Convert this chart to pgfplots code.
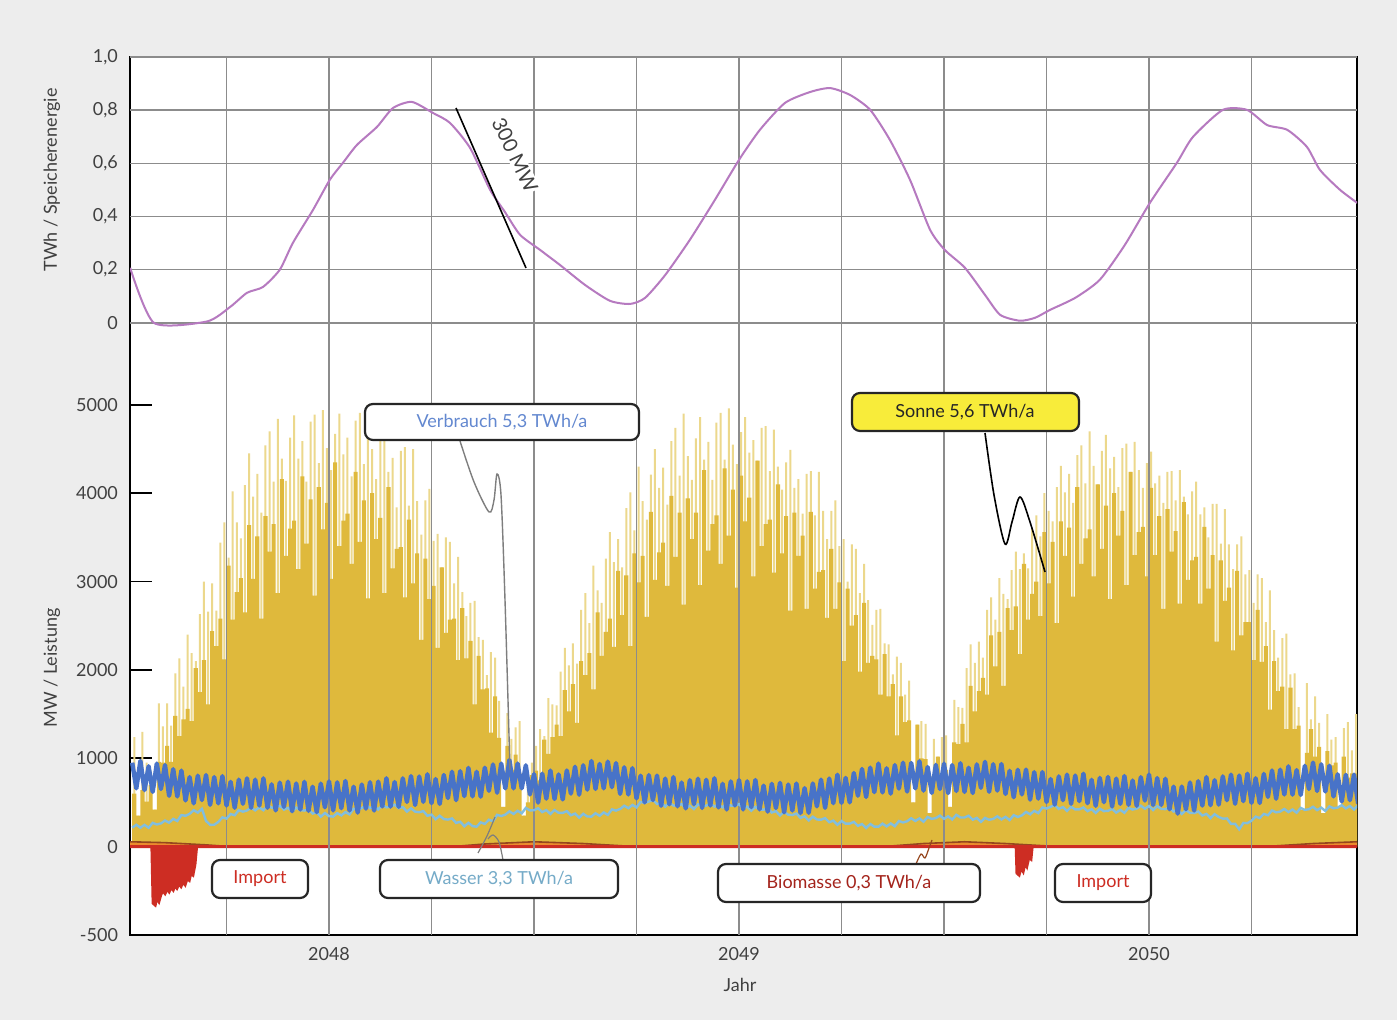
\documentclass[border=0pt]{standalone}
\usepackage{fontspec}
\setmainfont{Lato}
\usepackage{pgfplots}
\usepackage{pgfplotstable}
\pgfplotsset{compat=1.18}

\definecolor{bgc}{RGB}{237,237,237}
\definecolor{gridc}{RGB}{140,140,140}
\definecolor{txt}{RGB}{64,64,64}
\definecolor{gold}{RGB}{223,185,60}
\definecolor{palegold}{RGB}{236,216,140}
\definecolor{bluec}{RGB}{72,115,200}
\definecolor{lbluec}{RGB}{130,190,222}
\definecolor{redc}{RGB}{205,45,35}
\definecolor{orangec}{RGB}{235,140,45}
\definecolor{brownc}{RGB}{150,70,30}
\definecolor{purplec}{RGB}{182,122,192}
\definecolor{yellowbox}{RGB}{248,236,58}

% t = years after 2047.0; g = solar (dense), p = solar (spikes), b = Verbrauch, w = Wasser (MW)
\pgfplotstableread{
t g p b w
0.52 600 1240 950 215
0.53 350 350 660 247
0.54 640 1300 970 214
0.55 510 950 640 246
0.56 700 860 910 213
0.57 420 420 620 269
0.58 960 1620 940 251
0.59 950 1360 652 263
0.60 1140 1620 923 295
0.61 960 1370 575 272
0.62 1480 1960 877 314
0.63 1250 2130 568 290
0.64 1440 1810 860 357
0.65 1560 2400 523 349
0.66 1420 2190 787 371
0.67 2020 2100 490 412
0.68 1750 2630 803 385
0.69 2110 3000 527 428
0.70 1610 2660 810 292
0.71 2440 2980 473 246
0.72 2270 2670 787 248
0.73 2580 3440 490 279
0.74 2120 3670 798 331
0.75 3180 3270 465 317
0.76 2570 4020 733 369
0.77 2880 3670 440 355
0.78 3040 3490 758 413
0.79 2650 4090 485 396
0.80 3640 4450 773 409
0.81 3030 3960 440 442
0.82 3510 4220 758 411
0.83 2580 3780 465 444
0.84 3740 4540 773 412
0.85 3340 4700 440 470
0.86 3650 4130 705 441
0.87 2870 4840 410 442
0.88 4160 4390 725 463
0.89 3290 4140 450 419
0.90 3600 4630 735 440
0.91 3690 4880 400 396
0.92 3140 4390 715 442
0.93 4190 4590 420 413
0.94 3430 4130 733 408
0.95 3930 4810 405 424
0.96 2840 4890 678 374
0.97 4070 4340 390 389
0.98 3590 4940 713 339
0.99 3890 4510 445 380
1.00 3030 4260 738 345
1.01 4350 4670 410 340
1.02 3400 4900 728 379
1.03 3690 4440 435 353
1.04 3770 4630 743 391
1.05 3200 4190 410 365
1.06 4240 4820 678 429
1.07 3450 4910 385 418
1.08 3920 4330 703 436
1.09 2810 5000 430 475
1.10 4000 4500 729 435
1.11 3480 4160 408 460
1.12 3720 4620 736 420
1.13 2870 4830 455 470
1.14 4070 4240 774 445
1.15 3150 4400 453 450
1.16 3370 3840 731 475
1.17 3390 4480 450 435
1.18 2820 4520 773 448
1.19 3700 3860 506 396
1.20 2980 4500 798 433
1.21 3320 3910 471 396
1.22 2340 3530 794 389
1.23 3260 3920 507 402
1.24 2800 4050 819 349
1.25 2950 3460 492 362
1.26 2250 3540 765 310
1.27 3160 3160 483 349
1.28 2420 3500 811 312
1.29 2570 3450 550 306
1.30 2580 2980 848 319
1.31 2110 3280 526 268
1.32 2700 2880 854 282
1.33 2130 2610 572 230
1.34 2330 2760 891 269
1.35 1610 2780 569 232
1.36 2160 2370 847 226
1.37 1780 2340 565 274
1.38 1790 1940 893 257
1.39 1290 2200 632 304
1.40 1700 2140 930 287
1.41 1230 1650 610 360
1.42 450 450 940 346
1.43 1140 1510 660 362
1.44 870 1220 980 399
1.45 1040 1350 660 370
1.46 830 1420 940 406
1.47 350 350 660 377
1.48 500 700 920 438
1.49 810 950 590 410
1.50 860 1140 820 412
1.51 750 1330 498 434
1.52 1210 1250 826 391
1.53 1050 1680 543 413
1.54 1240 1610 861 370
1.55 1380 1600 539 414
1.56 1250 1980 817 383
1.57 1770 2250 534 382
1.58 1530 2050 862 401
1.59 1840 2300 600 355
1.60 1400 2070 904 374
1.61 2100 2680 588 328
1.62 1940 2870 921 372
1.63 2190 2530 645 341
1.64 1780 3180 969 340
1.65 2650 2900 653 377
1.66 2160 2760 936 349
1.67 2430 3260 660 387
1.68 2580 3560 962 359
1.69 2260 3220 673 421
1.70 3120 3480 945 408
1.71 2620 3160 597 426
1.72 3070 3830 898 463
1.73 2270 4010 590 435
1.74 3320 3580 888 472
1.75 2990 4300 546 444
1.76 3290 3910 803 506
1.77 2600 3700 501 493
1.78 3790 4210 809 510
1.79 3020 4500 527 528
1.80 3330 4060 804 482
1.81 3440 4290 462 500
1.82 2950 3870 770 453
1.83 3970 4590 479 497
1.84 3280 4740 787 465
1.85 3780 4200 456 463
1.86 2740 4900 725 482
1.87 3940 4420 433 435
1.88 3480 4150 752 463
1.89 3780 4620 481 425
1.90 2960 4860 769 478
1.91 4260 4380 438 455
1.92 3350 4580 757 463
1.93 3650 4150 465 490
1.94 3750 4800 774 453
1.95 3200 4910 443 480
1.96 4280 4380 711 443
1.97 3520 4960 420 495
1.98 4040 4550 738 464
1.99 2930 4330 466 462
2.00 4200 4690 753 481
2.01 3680 4860 421 435
2.02 3950 4460 739 453
2.03 3060 4600 447 407
2.04 4370 4370 754 451
2.05 3400 4740 422 419
2.06 3650 4760 690 418
2.07 3700 4250 396 434
2.08 3100 4720 711 386
2.09 4100 4300 437 402
2.10 3320 4040 722 353
2.11 3740 4350 388 395
2.12 2670 4490 703 361
2.13 3780 4060 409 357
2.14 3290 4160 714 374
2.15 3520 3770 380 325
2.16 2690 4220 662 343
2.17 3790 4250 383 296
2.18 2920 3750 715 339
2.19 3110 4240 456 307
2.20 3130 3800 758 305
2.21 2590 3480 439 323
2.22 3370 3800 771 276
2.23 2690 3920 492 294
2.24 2990 3400 814 247
2.25 2100 3480 495 290
2.26 2920 3000 778 260
2.27 2500 3420 501 260
2.28 2620 3370 833 280
2.29 1980 2870 576 235
2.30 2760 3200 879 256
2.31 2080 2790 562 211
2.32 2160 2510 894 256
2.33 2120 2680 617 226
2.34 1720 2690 940 226
2.35 2180 2300 613 260
2.36 1700 2290 887 229
2.37 1840 1950 600 262
2.38 1260 2150 923 231
2.39 1700 2080 657 290
2.40 1410 1720 950 274
2.41 1430 1880 623 287
2.42 500 500 947 321
2.43 1380 1380 660 290
2.44 1000 1420 967 319
2.45 990 1390 634 282
2.46 380 380 901 336
2.47 800 1220 608 314
2.48 1020 1020 925 323
2.49 800 1240 652 351
2.50 870 1260 939 315
2.51 450 450 606 343
2.52 1180 1660 923 307
2.53 1160 1580 630 360
2.54 1390 1570 944 330
2.55 1180 2020 619 330
2.56 1820 2290 893 350
2.57 1530 2080 607 305
2.58 1760 2320 931 325
2.59 1910 2140 666 280
2.60 1720 2680 960 325
2.61 2390 2820 621 304
2.62 2040 2570 933 314
2.63 2430 3040 634 343
2.64 1820 2860 935 308
2.65 2700 2800 596 337
2.66 2450 3130 858 301
2.67 2720 3340 559 356
2.68 2180 3140 870 335
2.69 3200 3320 591 354
2.70 2570 3150 872 393
2.71 2860 3600 532 366
2.72 3000 3750 843 405
2.73 2610 3510 543 379
2.74 3560 4000 844 443
2.75 2980 3800 505 431
2.76 3450 3680 765 450
2.77 2530 4070 475 471
2.78 3680 4310 795 427
2.79 3290 4010 525 448
2.80 3610 4220 815 404
2.81 2830 3890 485 450
2.82 4070 4430 805 421
2.83 3200 4540 515 422
2.84 3490 4110 825 443
2.85 3590 4700 491 401
2.86 3060 4310 756 424
2.87 4100 4100 462 381
2.88 3370 4480 778 429
2.89 3860 4660 503 402
2.90 2800 4280 789 405
2.91 4000 4410 454 427
2.92 3520 4070 770 385
2.93 3800 4510 484 416
2.94 2960 4560 799 383
2.95 4240 4240 473 439
2.96 3300 4580 748 420
2.97 3560 4260 462 431
2.98 3620 4060 786 463
2.99 3060 4340 521 429
3.00 4060 4470 815 460
3.01 3300 4110 471 414
3.02 3740 4200 776 458
3.03 2690 3890 472 426
3.04 3820 4240 768 425
3.05 3340 4250 423 444
3.06 3570 3920 679 398
3.07 2750 4260 374 416
3.08 3900 3960 680 370
3.09 3020 3760 423 413
3.10 3240 4020 726 382
3.11 3280 4130 408 380
3.12 2750 3760 741 398
3.13 3620 3840 464 352
3.14 2920 3500 787 370
3.15 3300 3880 469 323
3.16 2320 3880 752 367
3.17 3240 3430 475 335
3.18 2780 3820 795 317
3.19 2930 3420 525 319
3.20 2220 3140 815 257
3.21 3120 3420 485 259
3.22 2390 3510 805 196
3.23 2540 3080 515 268
3.24 2540 3130 825 266
3.25 2110 2760 495 293
3.26 2680 3080 774 340
3.27 2090 3040 494 323
3.28 2270 2540 823 370
3.29 1550 2900 563 355
3.30 2100 2450 862 409
3.31 1760 2140 542 388
3.32 1810 2360 871 397
3.33 1330 2410 590 426
3.34 1800 1950 909 391
3.35 1330 1960 588 420
3.36 1370 1580 866 384
3.37 420 420 585 438
3.38 1060 1850 914 416
3.39 1330 1440 653 423
3.40 1020 1700 951 451
3.41 1130 1400 630 413
3.42 380 380 932 441
3.43 1080 1500 624 404
3.44 920 1210 916 456
3.45 950 1240 568 434
3.46 450 450 819 442
3.47 1020 1340 511 469
3.48 780 1410 813 432
3.49 830 1090 525 460
3.50 830 1500 815 420
3.51 830 1500 485 470
}\powerdata

% storage energy, TWh
\pgfplotstableread{
t e
0.515 0.207
0.573 0.000
0.702 0.005
0.759 0.060
0.800 0.113
0.839 0.135
0.880 0.200
0.912 0.301
0.961 0.425
1.002 0.538
1.034 0.602
1.068 0.669
1.117 0.737
1.156 0.808
1.202 0.831
1.254 0.789
1.295 0.752
1.344 0.658
1.393 0.500
1.429 0.417
1.466 0.331
1.515 0.274
1.563 0.218
1.624 0.143
1.685 0.083
1.734 0.071
1.771 0.094
1.820 0.180
1.880 0.312
1.941 0.462
2.000 0.613
2.051 0.726
2.112 0.827
2.173 0.868
2.222 0.883
2.271 0.857
2.320 0.801
2.368 0.688
2.417 0.538
2.466 0.350
2.502 0.274
2.551 0.207
2.600 0.105
2.637 0.030
2.685 0.008
2.722 0.019
2.759 0.049
2.820 0.094
2.880 0.162
2.941 0.293
3.002 0.451
3.068 0.602
3.107 0.699
3.180 0.801
3.239 0.801
3.288 0.744
3.337 0.726
3.385 0.662
3.417 0.575
3.466 0.500
3.508 0.451
}\storedata

% Biomasse, MW
\pgfplotstableread{
t v
0.5146 55
0.60 45
0.70 20
0.76 0
1.30 0
1.38 30
1.50 55
1.62 35
1.75 0
2.35 0
2.45 35
2.55 55
2.65 35
2.78 0
3.28 0
3.40 35
3.5073 55
}\biodata

% Import, MW (negative)
\pgfplotstableread{
t v
0.5146 0
0.568 0
0.571 -320
0.576 -330
0.580 -290
0.585 -310
0.590 -270
0.595 -250
0.600 -265
0.605 -240
0.610 -255
0.615 -230
0.620 -245
0.624 -220
0.629 -235
0.634 -210
0.639 -225
0.644 -200
0.649 -215
0.654 -180
0.659 -190
0.663 -150
0.668 -160
0.673 -100
0.677 0
2.676 0
2.678 -150
2.683 -160
2.688 -120
2.693 -140
2.698 -90
2.702 -110
2.707 -60
2.712 -70
2.715 0
3.5073 0
}\impdata

\begin{document}
\begin{tikzpicture}
\begin{scope}[x=0.5pt,y=-0.5pt,yshift=510pt]
\fill[bgc] (0,0) rectangle (1397,1020);
\end{scope}

\begin{axis}[
    at={(65pt,42.5pt)}, anchor=south west,
    scale only axis, width=613.5pt, height=439pt,
    xmin=0.5146, xmax=3.5073, ymin=-1000, ymax=8937,
    axis background/.style={fill=white},
    axis line style={draw=black,line width=0.9pt},
    xtick={1,2,3}, xticklabels={2048,2049,2050},
    minor xtick={0.75,1.25,1.5,1.75,2.25,2.5,2.75,3.25},
    xmajorgrids, xminorgrids,
    major x tick style={draw=none}, minor x tick style={draw=none},
    ytick={-1000,0,1000,2000,3000,4000,5000},
    yticklabels={-500,0,1000,2000,3000,4000,5000},
    ytick pos=left, tick align=inside,
    major tick length=11pt,
    y tick style={black,line width=0.8pt},
    extra y ticks={5928,6529.8,7131.6,7733.4,8335.2,8937},
    extra y tick labels={0,{0,2},{0,4},{0,6},{0,8},{1,0}},
    extra y tick style={grid=major, major tick length=0pt},
    grid style={draw=gridc,line width=0.75pt},
    tick label style={font=\fontsize{9}{11}\selectfont, text=txt},
    yticklabel style={xshift=-2.5pt},
    xticklabel style={yshift=-2.5pt},
    clip=true,
]
% Sonne: thin light spikes behind the dense golden mass
\addplot[ybar, bar width=1pt, bar shift=0pt, draw=none, fill=palegold]
    table[x expr=\thisrow{t}+0.005, y=p]{\powerdata};
\addplot[const plot, draw=none, fill=gold] table[x=t,y=g]{\powerdata} \closedcycle;
% Biomasse
\addplot[draw=none, fill=orangec] table[x=t,y=v]{\biodata} \closedcycle;
\addplot[brownc, line width=0.8pt] table[x=t,y=v]{\biodata};
% Import (lower part of the axis at half scale)
\addplot[draw=redc, line width=1.5pt, fill=redc] table[x=t,y expr=2*\thisrow{v}]{\impdata} \closedcycle;
% grid over the power area
\pgfplotsinvokeforeach{0.75,1,1.25,1.5,1.75,2,2.25,2.5,2.75,3,3.25}{
  \draw[gridc,line width=0.75pt] (axis cs:#1,-1000) -- (axis cs:#1,5500);
}
% Wasser, Verbrauch
\addplot[lbluec, line width=1.2pt] table[x=t,y=w]{\powerdata};
\addplot[bluec, line width=2.2pt, line join=round] table[x=t,y=b]{\powerdata};
% Speicherenergie (upper part)
\addplot[purplec, line width=1pt, smooth, tension=0.4] table[x=t,y expr=5928+3009*\thisrow{e}]{\storedata};
\end{axis}

\begin{scope}[x=0.5pt,y=-0.5pt,yshift=510pt, every node/.style={font=\fontsize{9}{11}\selectfont}]
\node[rotate=90,text=txt] at (52,180) {TWh / Speicherenergie};
\node[rotate=90,text=txt] at (52,668) {MW / Leistung};
\node[text=txt] at (740,985) {Jahr};
% 300 MW
\draw[black,line width=0.8pt] (456,108) -- (526,268);
\node[rotate=-64,fill=white,inner sep=0.5pt,text=txt,font=\fontsize{10}{12}\selectfont] at (515,155) {300 MW};
% callouts
\draw[gridc!90!black,line width=0.7pt] plot[smooth] coordinates {(460,441) (474,482) (489,512) (494,500) (497,474) (501,495) (505,600) (510,770)};
\draw[black,line width=0.8pt] plot[smooth] coordinates {(985,433) (994,495) (1005,544) (1012,522) (1020,497) (1030,522) (1045,572)};
\draw[gridc!90!black,line width=0.6pt] plot[smooth] coordinates {(478,853) (487,836) (495,817)};
\draw[gridc!90!black,line width=0.6pt] plot[smooth] coordinates {(503,860) (499,842) (493,835) (488,839)};
\draw[brownc,line width=0.6pt] plot[smooth] coordinates {(916,864) (921,854) (925,858) (929,848) (932,840)};
\tikzset{cbox/.style={rounded corners=4pt,line width=1.1pt,draw=black!85}}
\draw[cbox,fill=white] (365,404) rectangle (639,440);
\node[text=bluec!85!white] at (502,422) {Verbrauch 5,3 TWh/a};
\draw[cbox,fill=yellowbox] (852,393) rectangle (1079,431);
\node[text=black!85] at (965,412) {Sonne 5,6 TWh/a};
\draw[cbox,fill=white] (212,860) rectangle (308,898);
\node[text=redc] at (260,879) {Import};
\draw[cbox,fill=white] (380,860) rectangle (618,898);
\node[text=lbluec!90!black] at (499,879) {Wasser 3,3 TWh/a};
\draw[cbox,fill=white] (718,864) rectangle (980,902);
\node[text=redc!80!black] at (849,883) {Biomasse 0,3 TWh/a};
\draw[cbox,fill=white] (1055,864) rectangle (1151,902);
\node[text=redc] at (1103,883) {Import};
\end{scope}
\end{tikzpicture}
\end{document}
